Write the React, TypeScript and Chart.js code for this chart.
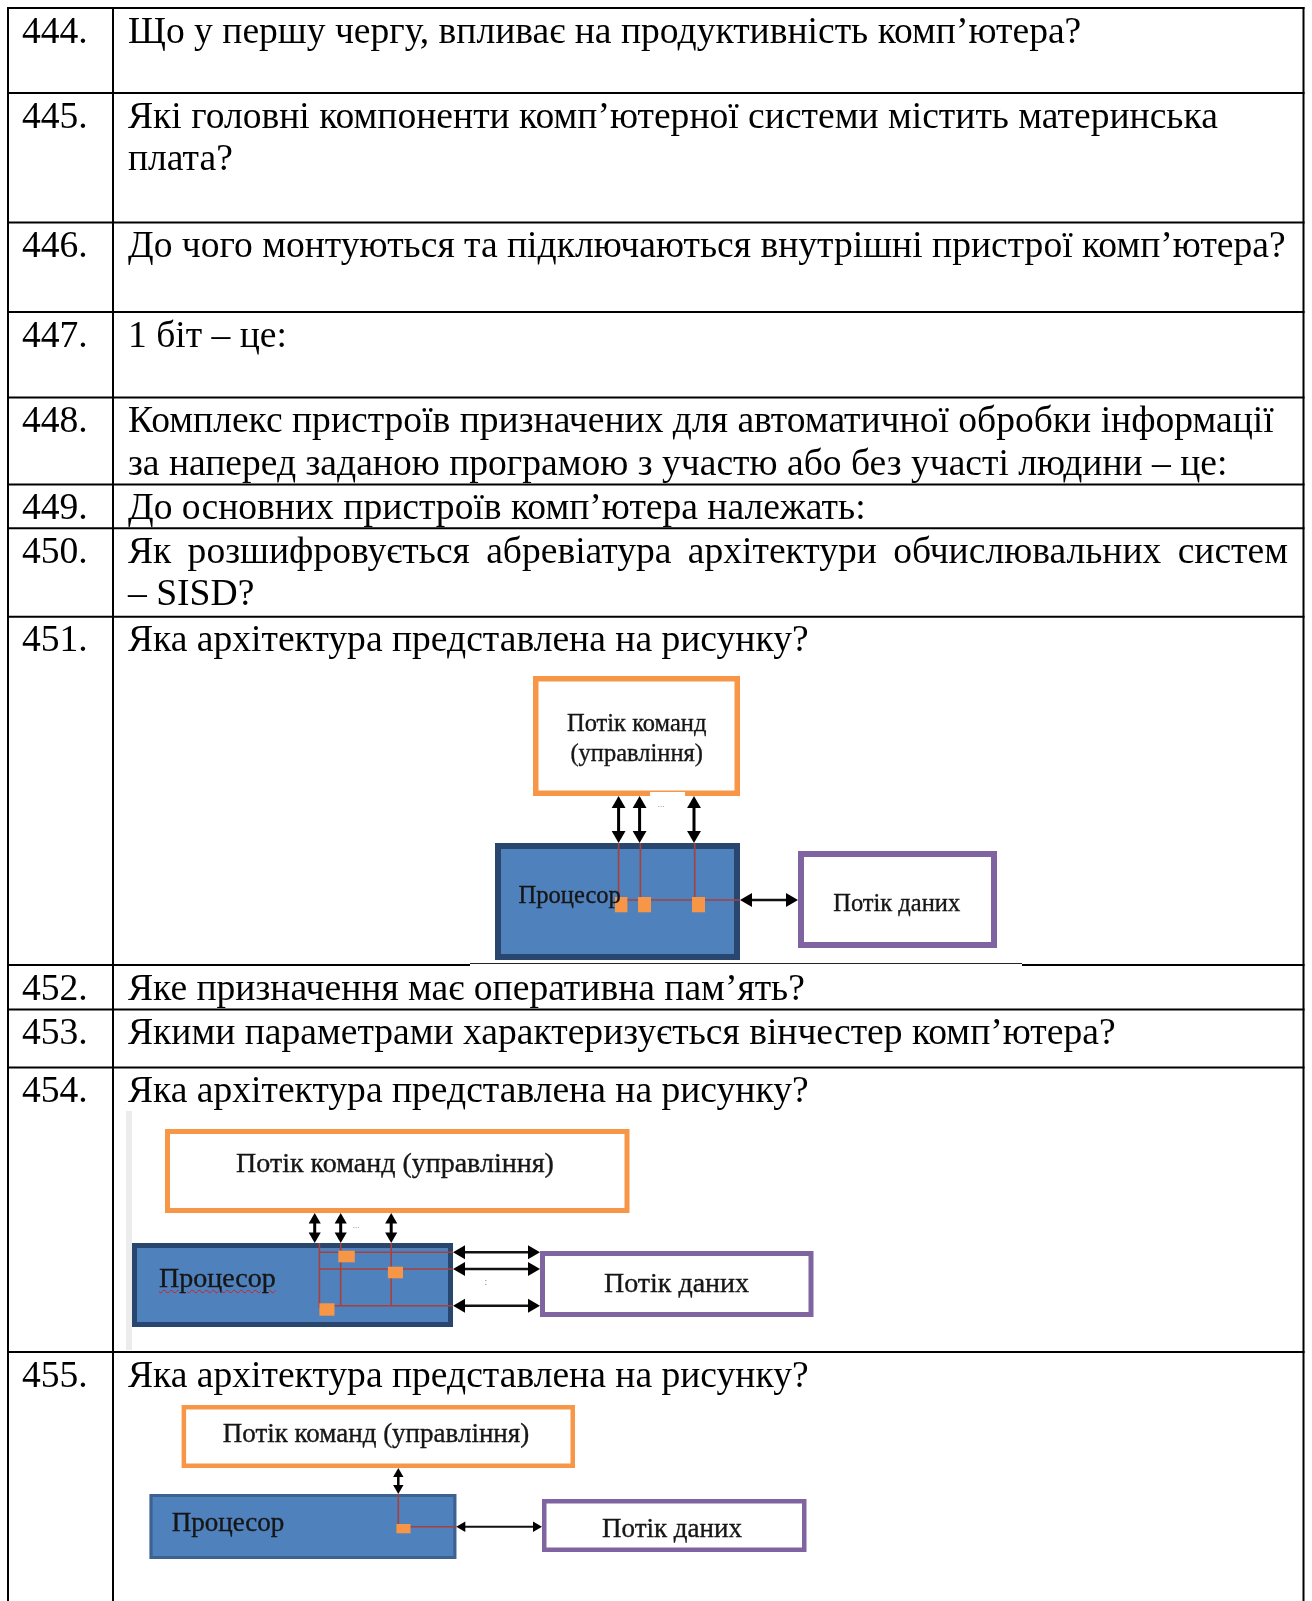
import React, { useEffect, useRef } from "react";
import { Chart, registerables } from "chart.js";

Chart.register(...registerables);

const PAGE_W = 1312;
const PAGE_H = 1601;

// ---------- content ----------
const questionNumbers = ["444.", "445.", "446.", "447.", "448.", "449.", "450.", "451.", "452.", "453.", "454.", "455."];

const questionLines: string[][] = [
  ["Що у першу чергу, впливає на продуктивність комп’ютера?"],
  ["Які головні компоненти комп’ютерної системи містить материнська", "плата?"],
  ["До чого монтуються та підключаються внутрішні пристрої комп’ютера?"],
  ["1 біт – це:"],
  ["Комплекс пристроїв призначених для автоматичної обробки інформації", "за наперед заданою програмою з участю або без участі людини – це:"],
  ["До основних пристроїв комп’ютера належать:"],
  ["Як розшифровується  абревіатура архітектури обчислювальних систем", "– SISD?"],
  ["Яка архітектура представлена на рисунку?"],
  ["Яке призначення має оперативна пам’ять?"],
  ["Якими параметрами характеризується вінчестер комп’ютера?"],
  ["Яка архітектура представлена на рисунку?"],
  ["Яка архітектура представлена на рисунку?"],
];

const justifiedFirstLineRows = [6];

// ---------- table layout ----------
const rowTopY = [8, 93, 222.5, 312, 397.5, 484.5, 528.3, 616.7, 965, 1009.5, 1067.5, 1352];
const columnX = [8, 113, 1303.5];
const numberTextX = 22;
const questionTextX = 128;
const questionTextRight = 1288;
const FONT = 37.6;
const LINE_GAP = 42.5;
const BASELINE_OFFSET = 35;
const imageGapOnLine = { y: 965, x0: 470, x1: 1022 };

// ---------- diagram layout ----------
type Box = { r: [number, number, number, number]; t: number; stroke: string; fill: string };
const ORANGE = "#F79646";
const BLUE = "#4F81BD";
const NAVY = "#28466E";
const PURPLE = "#8064A2";
const RED = "#A8403C";

const diagramBoxes: Box[] = [
  { r: [533, 676, 740, 796], t: 5.5, stroke: ORANGE, fill: "#ffffff" },
  { r: [495, 843, 740, 960], t: 6, stroke: NAVY, fill: BLUE },
  { r: [798, 851, 997, 948], t: 6, stroke: PURPLE, fill: "#ffffff" },
  { r: [165, 1129, 629.5, 1213], t: 5, stroke: ORANGE, fill: "#ffffff" },
  { r: [132, 1243, 453, 1327], t: 5, stroke: NAVY, fill: BLUE },
  { r: [540, 1251, 813.5, 1317], t: 5, stroke: PURPLE, fill: "#ffffff" },
  { r: [181.6, 1405, 575, 1468], t: 4.5, stroke: ORANGE, fill: "#ffffff" },
  { r: [149.6, 1494, 456.3, 1559], t: 3, stroke: "#3D6191", fill: BLUE },
  { r: [542, 1499, 806.5, 1552], t: 4.5, stroke: PURPLE, fill: "#ffffff" },
];

// [x, yTop, yBottom, headRadius, shaft]
const verticalArrows: [number, number, number, number, number][] = [
  [618.6, 796, 843, 8, 3],
  [639.6, 796, 843, 8, 3],
  [694, 796, 843, 8, 3],
  [314.7, 1213, 1243, 7, 3],
  [340.7, 1213, 1243, 7, 3],
  [391.2, 1213, 1243, 7, 3],
  [398.3, 1468, 1494, 6, 2.5],
];
// [y, xLeft, xRight, headRadius, shaft]
const horizontalArrows: [number, number, number, number, number][] = [
  [900, 740, 798, 8, 2.5],
  [1252.3, 453, 540, 8, 2.5],
  [1269, 453, 540, 8, 2.5],
  [1305.7, 453, 540, 8, 2.5],
  [1526.7, 456.3, 542, 6, 2],
];

const redWires: [number, number][][] = [
  [[618.6, 843], [618.6, 900]],
  [[640.4, 843], [640.4, 900]],
  [[694.7, 843], [694.7, 900]],
  [[618.6, 900], [740, 900]],
  [[319.4, 1243], [319.4, 1308]],
  [[340.7, 1243], [340.7, 1305.7]],
  [[391.2, 1243], [391.2, 1305.7]],
  [[319.4, 1252.3], [453, 1252.3]],
  [[319.4, 1269], [453, 1269]],
  [[319.4, 1305.7], [453, 1305.7]],
  [[398.3, 1494], [398.3, 1526.7]],
  [[398.3, 1526.7], [456.3, 1526.7]],
];

const switchSquares: [number, number, number, number][] = [
  [615, 897, 627.4, 912.3],
  [638, 897, 651, 912.3],
  [692, 897, 705, 912.3],
  [338.3, 1250.7, 354.8, 1262.3],
  [387.9, 1266.7, 403, 1278.3],
  [319.4, 1303.3, 334.5, 1315.7],
  [396.4, 1524, 410.5, 1533.3],
];

const whitePatches: [number, number, number, number][] = [[650, 792, 685, 798]];
const shadowStrips: [number, number, number, number][] = [[126, 1111, 132, 1350]];

type Label = { text: string; x: number; cy: number; size: number; align: "center" | "left"; wavy?: boolean };
const diagramLabels: Label[] = [
  { text: "Потік команд", x: 636.7, cy: 723, size: 24.5, align: "center" },
  { text: "(управління)", x: 636.7, cy: 753, size: 24.5, align: "center" },
  { text: "Процесор", x: 518.6, cy: 895, size: 24.5, align: "left" },
  { text: "Потік даних", x: 896.7, cy: 903, size: 24.5, align: "center" },
  { text: "Потік команд (управління)", x: 395, cy: 1163, size: 28, align: "center" },
  { text: "Процесор", x: 159, cy: 1278, size: 28, align: "left", wavy: true },
  { text: "Потік даних", x: 676.5, cy: 1283, size: 28, align: "center" },
  { text: "Потік команд (управління)", x: 376, cy: 1433, size: 27, align: "center" },
  { text: "Процесор", x: 171.7, cy: 1522.7, size: 27, align: "left" },
  { text: "Потік даних", x: 672, cy: 1528, size: 27, align: "center" },
];
const tinyMarks: Label[] = [
  { text: "...", x: 661, cy: 804, size: 9, align: "center" },
  { text: "...", x: 356, cy: 1225, size: 9, align: "center" },
  { text: ":", x: 486, cy: 1282, size: 10, align: "center" },
];

type P = [number, number];

function lineDs(points: P[], color: string, width: number): any {
  return {
    data: points.map(([x, y]) => ({ x, y })),
    borderColor: color,
    borderWidth: width,
    pointRadius: 0,
    pointHoverRadius: 0,
    fill: false,
    tension: 0,
    borderJoinStyle: "miter",
    borderCapStyle: "butt",
    clip: false,
  };
}
function filledRect(r: [number, number, number, number], color: string) {
  const [x0, y0, x1, y1] = r;
  const yc = (y0 + y1) / 2;
  return lineDs([[x0, yc], [x1, yc]], color, y1 - y0);
}
function outlineRect(r: [number, number, number, number], t: number, color: string) {
  const [x0, y0, x1, y1] = r;
  const h = t / 2;
  const a = x0 + h, b = y0 + h, c = x1 - h, d = y1 - h;
  return lineDs([[a, b], [c, b], [c, d], [a, d], [a, b], [c, b]], color, t);
}
function headsDs(pts: { x: number; y: number; rot: number }[], r: number) {
  return {
    data: pts.map((p) => ({ x: p.x, y: p.y })),
    showLine: false,
    borderWidth: 0,
    pointStyle: "triangle",
    pointRadius: r,
    pointHoverRadius: r,
    pointBorderWidth: 0,
    pointBackgroundColor: "#000000",
    pointRotation: (ctx: any) => pts[ctx.dataIndex]?.rot ?? 0,
    clip: false,
  };
}

function buildDatasets(): any[] {
  const list: any[] = [];
  // table grid
  rowTopY.forEach((y) => {
    if (y === imageGapOnLine.y) {
      list.push(lineDs([[columnX[0] - 1, y], [imageGapOnLine.x0, y]], "#000", 2));
      list.push(lineDs([[imageGapOnLine.x1, y], [columnX[2] + 1, y]], "#000", 2));
      list.push(lineDs([[imageGapOnLine.x0, y - 1.5], [imageGapOnLine.x1, y - 1.5]], "#222", 1));
    } else {
      list.push(lineDs([[columnX[0] - 1, y], [columnX[2] + 1, y]], "#000", 2));
    }
  });
  columnX.forEach((x) => list.push(lineDs([[x, rowTopY[0] - 1], [x, PAGE_H]], "#000", 2)));

  shadowStrips.forEach((r) => list.push(filledRect(r, "#ececec")));

  // boxes
  diagramBoxes.forEach((b) => {
    list.push(filledRect(b.r, b.fill));
    list.push(outlineRect(b.r, b.t, b.stroke));
  });
  whitePatches.forEach((r) => list.push(filledRect(r, "#ffffff")));

  // wires
  redWires.forEach((w) => list.push(lineDs(w, RED, 1.6)));

  // arrows
  verticalArrows.forEach(([x, y0, y1, r, s]) => {
    list.push(lineDs([[x, y0 + r], [x, y1 - r]], "#000", s));
    list.push(headsDs([{ x, y: y0 + r, rot: 0 }, { x, y: y1 - r, rot: 180 }], r));
  });
  horizontalArrows.forEach(([y, x0, x1, r, s]) => {
    list.push(lineDs([[x0 + r, y], [x1 - r, y]], "#111", s));
    list.push(headsDs([{ x: x0 + r, y, rot: 270 }, { x: x1 - r, y, rot: 90 }], r));
  });

  switchSquares.forEach((r) => list.push(filledRect(r, ORANGE)));

  const n = list.length;
  list.forEach((d, i) => (d.order = n - i));
  return list;
}

function PageChart() {
  const ref = useRef<HTMLCanvasElement | null>(null);
  useEffect(() => {
    if (!ref.current) return;
    const chart = new Chart(ref.current, {
      type: "line",
      data: { datasets: buildDatasets() },
      options: {
        responsive: false,
        maintainAspectRatio: false,
        animation: false,
        devicePixelRatio: 1,
        events: [],
        layout: { padding: 0, autoPadding: false },
        scales: {
          x: { type: "linear", min: 0, max: PAGE_W, display: false },
          y: { type: "linear", min: 0, max: PAGE_H, reverse: true, display: false },
        },
        plugins: { legend: { display: false }, tooltip: { enabled: false } },
      } as any,
    });
    return () => chart.destroy();
  }, []);
  return (
    <canvas
      ref={ref}
      width={PAGE_W}
      height={PAGE_H}
      style={{ position: "absolute", left: 0, top: 0, width: PAGE_W, height: PAGE_H, zIndex: 0 }}
    />
  );
}

function LabelEl({ l, color, stroke }: { l: Label; color: string; stroke?: boolean }) {
  const top = l.cy - 0.49 * l.size;
  const common: React.CSSProperties = {
    position: "absolute",
    top,
    fontSize: l.size,
    lineHeight: l.size + "px",
    whiteSpace: "pre",
    color,
    zIndex: 2,
  };
  if (stroke) {
    (common as any).WebkitTextStroke = "0.35px " + color;
  }
  if (l.wavy) {
    common.textDecoration = "underline wavy #d02020";
    (common as any).textDecorationThickness = "1px";
    (common as any).textUnderlineOffset = "2px";
  }
  if (l.align === "center") {
    return (
      <div style={{ ...common, left: l.x - 300, width: 600, textAlign: "center" }}>{l.text}</div>
    );
  }
  return <div style={{ ...common, left: l.x }}>{l.text}</div>;
}

export default function App() {
  const lineTop = (rowIdx: number, lineIdx: number) =>
    rowTopY[rowIdx] + BASELINE_OFFSET + lineIdx * LINE_GAP - 0.8375 * FONT;

  return (
    <div
      style={{
        position: "absolute",
        left: 0,
        top: 0,
        width: PAGE_W,
        height: PAGE_H,
        overflow: "hidden",
        background: "#ffffff",
        fontFamily: "'Liberation Serif', 'Times New Roman', serif",
        color: "#000",
      }}
    >
      <PageChart />
      {questionNumbers.map((num, i) => (
        <div
          key={"n" + i}
          style={{
            position: "absolute",
            left: numberTextX,
            top: lineTop(i, 0),
            fontSize: FONT,
            lineHeight: FONT + "px",
            whiteSpace: "pre",
            zIndex: 2,
          }}
        >
          {num}
        </div>
      ))}
      {questionLines.map((lines, i) =>
        lines.map((t, j) => {
          const justify = j === 0 && lines.length > 1 && justifiedFirstLineRows.includes(i);
          return (
            <div
              key={"q" + i + "_" + j}
              style={{
                position: "absolute",
                left: questionTextX,
                top: lineTop(i, j),
                fontSize: FONT,
                lineHeight: FONT + "px",
                whiteSpace: justify ? "normal" : "pre",
                width: justify ? questionTextRight - questionTextX : undefined,
                textAlign: justify ? "justify" : "left",
                textAlignLast: justify ? "justify" : undefined,
                zIndex: 2,
              }}
            >
              {t}
            </div>
          );
        })
      )}
      {diagramLabels.map((l, i) => (
        <LabelEl key={"l" + i} l={l} color="#161616" stroke />
      ))}
      {tinyMarks.map((l, i) => (
        <LabelEl key={"m" + i} l={l} color="#6a7fa8" />
      ))}
    </div>
  );
}
